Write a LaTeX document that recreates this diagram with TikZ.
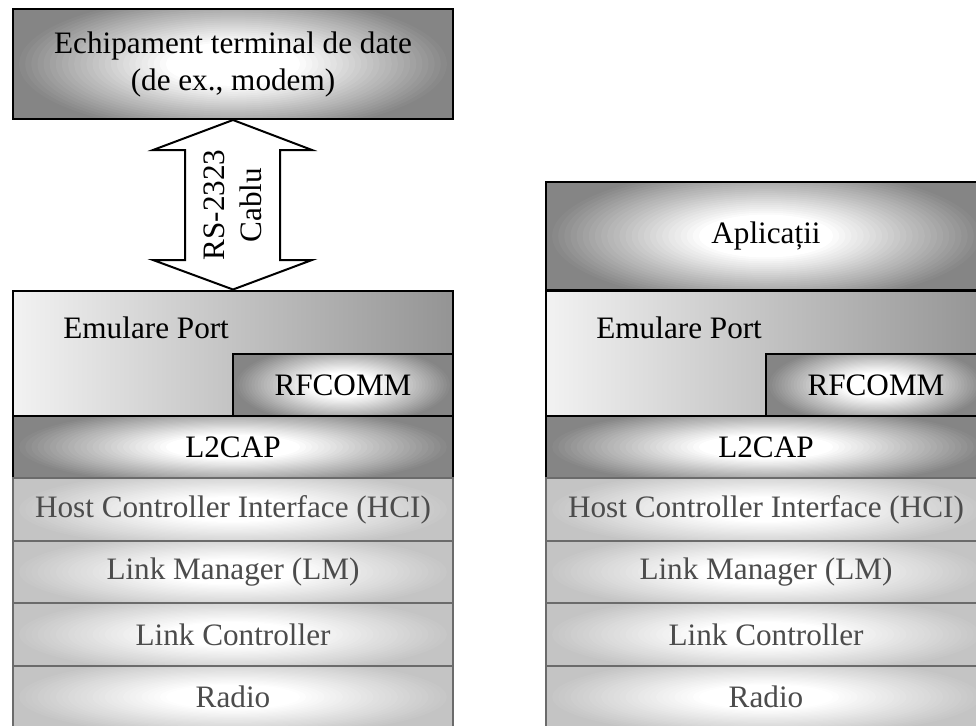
\documentclass[tikz,border=0pt]{standalone}
\usepackage{fontspec}
\setmainfont{Liberation Serif}
\usepackage{tikz}
\usetikzlibrary{calc}
\definecolor{boxdark}{gray}{0.52}
\definecolor{boxlight}{gray}{0.77}
\definecolor{edgegray}{gray}{0.42}
\definecolor{textgray}{gray}{0.30}
% soft white glow in the middle of a box, built from nested ellipses
\tikzset{glow/.style={path picture={
	\path let \p1=($(path picture bounding box.north east)-(path picture bounding box.south west)$) in \pgfextra{\xdef\glw{\x1}\xdef\glh{\y1}};
	\foreach \k [evaluate=\k as \wp using {int(min(100,\k*4))}] in {0,...,35}
		\fill [white!\wp!#1] (path picture bounding box.center) ellipse [x radius={(1-\k/36)*0.5*\glw}, y radius={(1-\k/36)*0.65*\glh}];}}}
\tikzstyle{upper} = [draw=black, line width=1pt, fill=boxdark, glow=boxdark, inner sep=0pt, minimum width=220pt, align=center]
\tikzstyle{lower} = [draw=edgegray, line width=1pt, fill=boxlight, glow=boxlight, text=textgray, inner sep=0pt, minimum width=220pt, minimum height=31.25pt]
\tikzstyle{emul} = [draw=black, line width=1pt, left color=white!95!black, right color=black!42, inner sep=0pt, minimum width=220pt, minimum height=63pt]

\begin{document}
\begin{tikzpicture}[x=0.5pt, y=0.5pt, font=\fontsize{15.6}{18.5}\selectfont]
	\useasboundingbox (0,0) rectangle (976,-725);
	\clip (0,0) rectangle (976,-725);
	% left: terminal and cable
	\node [upper, minimum height=55pt] (dte) at (233,-64) {Echipament terminal de date\\(de ex., modem)};
	% right: applications
	\node [upper, minimum height=54pt] (app) at (766,-236) {Aplicații};
	% both stacks
	\foreach \s/\c in {L/233, R/766} {
		\node [emul] (em\s) at (\c,-353.5) {};
		\node [anchor=west, inner sep=0pt] (ep\s) at (\c-170,-328) {Emulare Port};
		\node [upper, minimum width=110pt, minimum height=31.5pt] (rf\s) at (\c+110,-385) {RFCOMM};
		\node [upper, minimum height=31pt] (l2\s) at (\c,-447) {L2CAP};
		\foreach \t/\y [count=\i] in {Host Controller Interface (HCI)/509.5, Link Manager (LM)/572, Link Controller/634.5, Radio/697}
			\node [lower] (ly\s\i) at (\c,-\y) {\t};
	}
	% cable arrow
	\draw [fill=white, line width=1pt] (dte.south) -- (312,-150) -- (280,-150) -- (280,-260) -- (312,-260) -- (emL.north)
		-- (153,-260) -- (185,-260) -- (185,-150) -- (153,-150) -- cycle;
	\node [rotate=90, align=center] (cable) at (233,-205) {RS-2323\\Cablu};
\end{tikzpicture}
\end{document}
